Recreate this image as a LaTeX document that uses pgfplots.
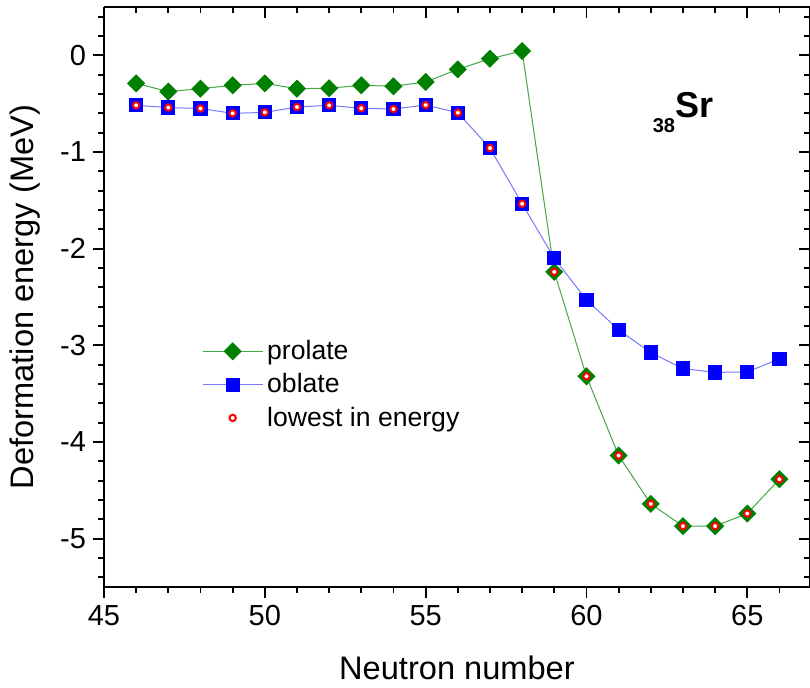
\documentclass[border=0pt]{standalone}
\usepackage{pgfplots}
\pgfplotsset{compat=1.18}
\usepackage{fontspec}
\setmainfont{Liberation Sans}
\definecolor{pgreen}{RGB}{0,128,0}
\definecolor{plgreen}{RGB}{70,165,70}
\definecolor{oblue}{RGB}{0,0,255}
\definecolor{olblue}{RGB}{120,120,255}

\begin{document}
\begin{tikzpicture}
\pgfplotsset{
  base/.style={scale only axis, width=353pt, height=290pt,
    xmin=45, xmax=66.95, ymin=-5.5, ymax=0.5,
    at={(0,0)}, anchor=south west,
    xtick={45,50,...,65}, ytick={-5,-4,...,0},
    minor xtick={46,...,66},
    minor ytick={-5.4,-5.2,...,0.4},
    major tick length=5.5pt, minor tick length=3pt,
    every tick/.style={black, line width=0.9pt},
    axis line style={line width=1pt},
    /pgf/number format/assume math mode=true,
    tick label style={font=\fontsize{14.5}{14.5}\selectfont},
  }
}
\begin{axis}[base, axis x line*=top, axis y line*=right, tick align=inside,
  xticklabels={}, yticklabels={}]
\end{axis}
\begin{axis}[base, axis x line*=bottom, axis y line*=left, tick align=outside,
  xlabel={Neutron number}, ylabel={Deformation energy (MeV)},
  label style={font=\fontsize{16.3}{16.3}\selectfont},
  x label style={at={(axis description cs:0.5,-0.16)}, anchor=base},
  y label style={at={(axis description cs:-0.112,0.5)}, anchor=center},
  legend style={draw=none, fill=none, at={(axis description cs:0.13,0.44)}, anchor=north west,
    font=\fontsize{13.3}{13.3}\selectfont, row sep=1.5pt},
  legend cell align=left,
  legend image code/.code={\draw[mark repeat=2,mark phase=2] plot coordinates {(0pt,0pt)(15pt,0pt)(30pt,0pt)};},
]
\addplot[plgreen, line width=0.5pt, mark=square*, mark size=2.95pt,
  mark options={rotate=45, fill=pgreen, draw=pgreen, solid}] coordinates {
(46,-0.29) (47,-0.375) (48,-0.345) (49,-0.31) (50,-0.29) (51,-0.345) (52,-0.34)
(53,-0.31) (54,-0.32) (55,-0.275) (56,-0.145) (57,-0.035) (58,0.045) (59,-2.24)
(60,-3.32) (61,-4.14) (62,-4.64) (63,-4.87) (64,-4.87) (65,-4.74) (66,-4.385)
};
\addlegendentry{prolate}
\addplot[olblue, line width=0.5pt, mark=square*, mark size=3.3pt,
  mark options={fill=oblue, draw=oblue, solid}] coordinates {
(46,-0.517) (47,-0.54) (48,-0.55) (49,-0.60) (50,-0.59) (51,-0.535) (52,-0.517)
(53,-0.548) (54,-0.555) (55,-0.514) (56,-0.593) (57,-0.96) (58,-1.535) (59,-2.10)
(60,-2.53) (61,-2.84) (62,-3.075) (63,-3.24) (64,-3.28) (65,-3.275) (66,-3.14)
};
\addlegendentry{oblate}
\addplot[only marks, mark=*, mark size=1.6pt,
  mark options={draw=red, fill=white, line width=1pt}] coordinates {
(46,-0.517) (47,-0.54) (48,-0.55) (49,-0.60) (50,-0.59) (51,-0.535) (52,-0.517)
(53,-0.548) (54,-0.555) (55,-0.514) (56,-0.593) (57,-0.96) (58,-1.535) (59,-2.24)
(60,-3.32) (61,-4.14) (62,-4.64) (63,-4.87) (64,-4.87) (65,-4.74) (66,-4.385)
};
\addlegendentry{lowest in energy}
\node[anchor=base west, inner sep=0pt, font=\bfseries] at (axis cs:62.05,-0.64)
  {\fontsize{10}{10}\selectfont\raisebox{-7.5pt}{38}\fontsize{18}{18}\selectfont Sr};
\end{axis}
\pgfresetboundingbox
\path (-52pt,-50pt) rectangle (353pt,293.5pt);
\end{tikzpicture}
\end{document}
